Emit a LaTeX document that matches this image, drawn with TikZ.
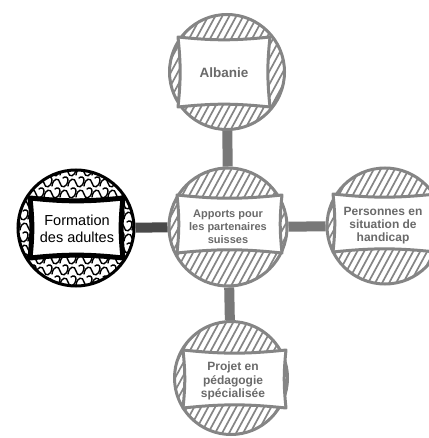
\documentclass[tikz,border=0pt]{standalone}
\usepackage{fontspec}
\setmainfont{Liberation Sans}

\definecolor{ringgray}{HTML}{858585}
\definecolor{textgray}{HTML}{6A6A6A}
\definecolor{linkgray}{HTML}{787878}
\definecolor{linkdark}{HTML}{4A4A4A}

\tikzset{
  ring/.style={circle, draw=ringgray, line width=3pt, inner sep=0pt},
  hatched/.style={path picture={
    \begin{scope}[shift={(path picture bounding box.center)}]
      \foreach \k in {-112,-105,...,112}
        \draw[ringgray, line width=1.7pt] (\k-38,70) -- (\k+38,-70);
    \end{scope}}},
  swirl/.style={black, line width=1.4pt, line cap=round},
  swirled/.style={path picture={
    \begin{scope}[shift={(path picture bounding box.center)}]
      \foreach \y in {-56,-34,...,66}
        \foreach \x in {-72,-56,...,72}
          \draw[swirl] (\x-8,\y+3) .. controls (\x-7,\y-5) and (\x-1,\y-6) .. (\x,\y)
                       .. controls (\x+1,\y+6) and (\x+7,\y+5) .. (\x+8,\y-3)
                       .. controls (\x+8,\y-6) and (\x+5,\y-7) .. (\x+3,\y-5);
      \foreach \y in {-45,-23,...,66}
        \foreach \x in {-64,-48,...,80}
          \draw[swirl] (\x-8,\y+3) .. controls (\x-7,\y-5) and (\x-1,\y-6) .. (\x,\y)
                       .. controls (\x+1,\y+6) and (\x+7,\y+5) .. (\x+8,\y-3)
                       .. controls (\x+8,\y-6) and (\x+5,\y-7) .. (\x+3,\y-5);
    \end{scope}}},
  panel/.style={draw=ringgray, line width=3pt, fill=white, line join=round},
  link/.style={draw=linkgray, line width=10pt},
  caption/.style={text=textgray, align=center, inner sep=0pt,
    font=\bfseries\fontsize{12}{13.5}\selectfont},
}

\begin{document}
\begin{tikzpicture}[x=1pt, y=-1pt]
\useasboundingbox (0,0) rectangle (428,438);

%%%%%%%%%%%%%%%%%%%%%%%%%%%%%%%
\node[ring, hatched, minimum size=115pt] (alb) at (227,72) {};
\draw[panel] (178,37) to[bend right=6] (270,37) to[bend right=6] (270,107)
  to[bend right=6] (178,107) to[bend right=6] cycle;
\node[caption, font=\bfseries\fontsize{13.5}{15}\selectfont] (albtext) at (224,73) {Albanie};

%%%%%%%%%%%%%%%%%%%%%%%%%%%%%%%
\node[ring, hatched, minimum size=118pt] (ctr) at (228,227) {};
\draw[panel] (177,195) to[bend right=6] (282,195) to[bend right=6] (282,253)
  to[bend right=6] (177,253) to[bend right=6] cycle;
\node[caption, font=\bfseries\fontsize{11}{13}\selectfont] (ctrtext) at (228,227)
  {Apports pour\\les partenaires\\suisses};

%%%%%%%%%%%%%%%%%%%%%%%%%%%%%%%
\node[ring, hatched, minimum size=116pt] (per) at (385,226) {};
\draw[panel] (333,194) to[bend right=6] (436,194) to[bend right=6] (436,252)
  to[bend right=6] (333,252) to[bend right=6] cycle;
\node[caption, font=\bfseries\fontsize{12}{13}\selectfont] (pertext) at (383,226)
  {Personnes en\\situation de\\handicap};

%%%%%%%%%%%%%%%%%%%%%%%%%%%%%%%
\node[ring, swirled, draw=black, minimum size=116pt] (for) at (76,228) {};
\draw[panel, draw=black, line width=5pt] (30,198) to[bend right=6] (123,198)
  to[bend right=6] (123,258) to[bend right=6] (30,258) to[bend right=6] cycle;
\node[caption, text=black, font=\fontsize{14.5}{17}\selectfont] (fortext) at (77,229)
  {Formation\\des adultes};

%%%%%%%%%%%%%%%%%%%%%%%%%%%%%%%
\node[ring, hatched, minimum size=113pt] (pro) at (231,378) {};
\draw[panel] (183,350) to[bend right=6] (286,350) to[bend right=6] (286,408)
  to[bend right=6] (183,408) to[bend right=6] cycle;
\node[caption] (protext) at (233,381)
  {Projet en\\pédagogie\\spécialisée};

%%%%%%%%%%%%%%%%%%%%%%%%%%%%%%%
\draw[link] (alb) -- (ctr);
\draw[link] (ctr) -- (pro);
\draw[link] (ctr) -- (per);
\draw[link, draw=linkdark] (for) -- (ctr);
\end{tikzpicture}
\end{document}
